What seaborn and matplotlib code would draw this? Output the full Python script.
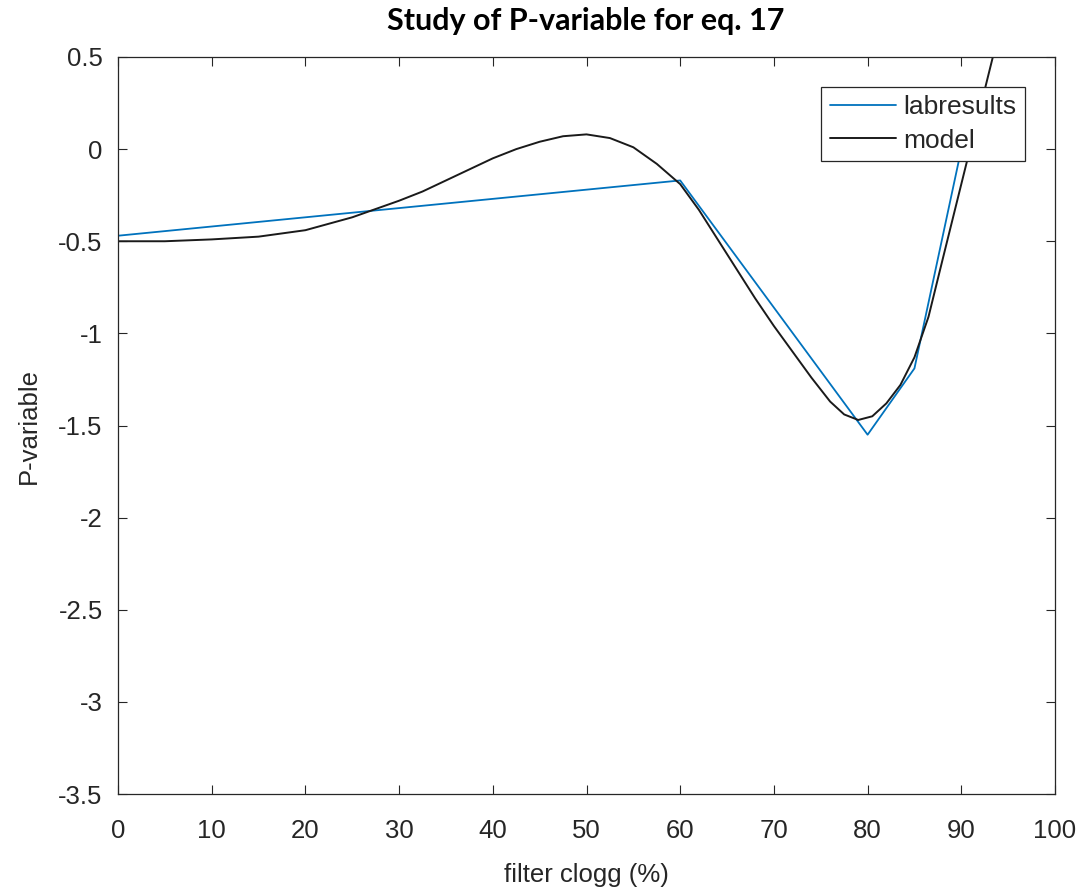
import numpy as np
import pandas as pd
import matplotlib
matplotlib.use("Agg")
import matplotlib.pyplot as plt
import seaborn as sns

# ---- data ----
lab_x = [0, 60, 80, 85, 90]
lab_y = [-0.47, -0.17, -1.55, -1.19, 0.0]

model_x = [0, 5, 10, 15, 20, 25, 30, 32.5, 35, 37.5, 40, 42.5, 45, 47.5,
           50, 52.5, 55, 57.5, 60, 62, 64, 66, 68, 70, 72, 74, 76, 77.5,
           79, 80.5, 82, 83.5, 85, 86.5, 88, 90, 92, 94]
model_y = [-0.50, -0.50, -0.49, -0.475, -0.44, -0.37, -0.28, -0.23, -0.17,
           -0.11, -0.05, 0.00, 0.04, 0.07, 0.08, 0.06, 0.01, -0.08, -0.19,
           -0.33, -0.49, -0.65, -0.81, -0.96, -1.10, -1.24, -1.37, -1.44,
           -1.47, -1.45, -1.38, -1.28, -1.13, -0.91, -0.60, -0.19, 0.22,
           0.63]

x_ticks = [0, 10, 20, 30, 40, 50, 60, 70, 80, 90, 100]
y_ticks = [-3.5, -3, -2.5, -2, -1.5, -1, -0.5, 0, 0.5]
y_tick_labels = ["-3.5", "-3", "-2.5", "-2", "-1.5", "-1", "-0.5", "0", "0.5"]

title = "Study of P-variable for eq. 17"
xlabel = "filter clogg (%)"
ylabel = "P-variable"

# ---- style ----
sns.set_style("ticks")
plt.rcParams['font.family'] = ['Liberation Sans', 'DejaVu Sans']

W, H = 1084, 891
fig = plt.figure(figsize=(W / 100, H / 100), dpi=100)
L, R, T, B = 118, 1055, 57, 794
ax = fig.add_axes([L / W, 1 - B / H, (R - L) / W, (B - T) / H])

sns.lineplot(x=lab_x, y=lab_y, ax=ax, color='#0072BD', linewidth=1.3,
             label='labresults')
sns.lineplot(x=model_x, y=model_y, ax=ax, color='#1a1a1a', linewidth=1.4,
             label='model')

ax.set_xlim(0, 100)
ax.set_ylim(-3.5, 0.5)
ax.set_xticks(x_ticks)
ax.set_xticklabels([str(v) for v in x_ticks])
ax.set_yticks(y_ticks)
ax.set_yticklabels(y_tick_labels)

tc = '#262626'
fs = 18.5
ax.tick_params(axis='both', direction='in', length=6.8, width=0.8,
               top=True, right=True, labelsize=fs, colors=tc)
ax.tick_params(axis='x', pad=18)
ax.tick_params(axis='y', pad=11)
for s in ax.spines.values():
    s.set_visible(True)
    s.set_color(tc)
    s.set_linewidth(0.9)

ax.set_xlabel(xlabel, fontsize=fs, color=tc)
ax.xaxis.set_label_coords(0.5, (B - 875) / (B - T))
ax.xaxis.label.set_va('center')
ax.set_ylabel(ylabel, fontsize=fs, color=tc)
ax.yaxis.set_label_coords((29 - L) / (R - L), 0.5)
ax.yaxis.label.set_va('center')
ax.yaxis.label.set_ha('center')

fig.text(586 / W, 1 - 21 / H, title, ha='center', va='center',
         fontsize=22, fontweight='bold', family=['Lato', 'DejaVu Sans'],
         color='black')

leg = ax.legend(loc='upper right', bbox_to_anchor=(1025 / W, 1 - 87 / H),
                bbox_transform=fig.transFigure, borderaxespad=0,
                fancybox=False, framealpha=1, edgecolor=tc, fontsize=19,
                handlelength=2.5, handletextpad=0.3, borderpad=0.32,
                labelspacing=0.35)
leg.get_frame().set_linewidth(0.9)
for t in leg.get_texts():
    t.set_color(tc)

fig.savefig("out.png", dpi=100, facecolor='white')
